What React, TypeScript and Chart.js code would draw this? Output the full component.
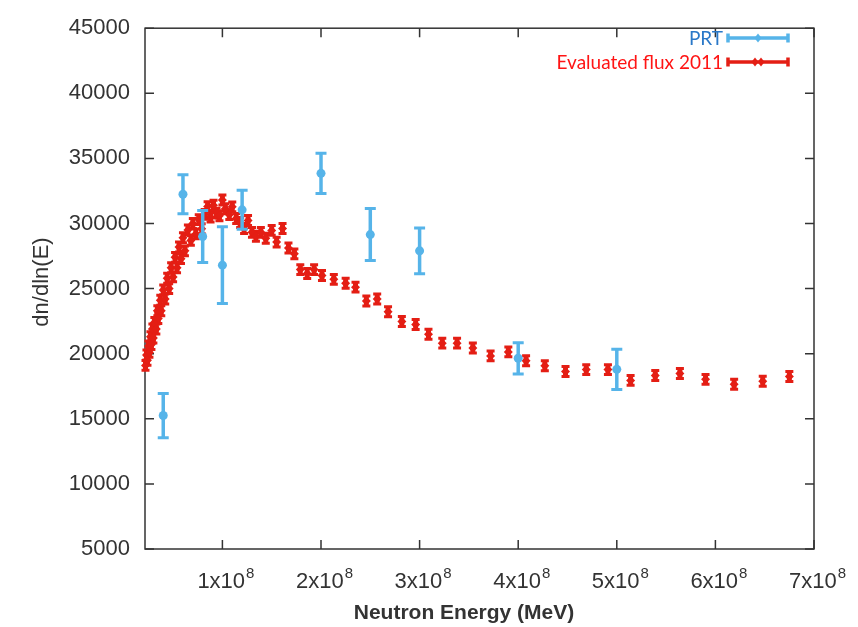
import React, { useEffect, useRef } from "react";
import { Chart, registerables } from "chart.js";

Chart.register(...registerables);

// ---- Data ----
const prtEnergy = [4.0e7, 6.0e7, 8.0e7, 1.0e8, 1.2e8, 2.0e8, 2.5e8, 3.0e8, 4.0e8, 5.0e8];
const prtFlux = [15250, 32250, 29000, 26800, 31050, 33850, 29150, 27900, 19650, 18800];
const prtError = [1700, 1500, 2000, 2950, 1500, 1550, 2000, 1750, 1200, 1550];

const evalEnergy = [
  2.2e7, 2.3e7, 2.4e7, 2.5e7, 2.6e7, 2.7e7, 2.8e7, 2.9e7, 3.0e7, 3.1e7,
  3.3e7, 3.4e7, 3.5e7, 3.7e7, 3.8e7, 4.0e7, 4.2e7, 4.4e7, 4.6e7, 4.8e7,
  5.0e7, 5.2e7, 5.4e7, 5.6e7, 5.8e7, 6.0e7, 6.2e7, 6.5e7, 6.8e7, 7.0e7,
  7.3e7, 7.6e7, 7.9e7, 8.2e7, 8.5e7, 8.8e7, 9.1e7, 9.4e7, 9.7e7, 1.0e8,
  1.03e8, 1.07e8, 1.10e8, 1.14e8, 1.18e8, 1.22e8, 1.26e8, 1.30e8, 1.34e8, 1.39e8,
  1.44e8, 1.50e8, 1.55e8, 1.61e8, 1.67e8, 1.73e8, 1.79e8, 1.86e8, 1.93e8, 2.01e8,
  2.13e8, 2.25e8, 2.35e8, 2.46e8, 2.57e8, 2.68e8, 2.82e8, 2.96e8, 3.09e8, 3.23e8,
  3.38e8, 3.54e8, 3.72e8, 3.90e8, 4.08e8, 4.27e8, 4.48e8, 4.69e8, 4.91e8, 5.14e8,
  5.39e8, 5.64e8, 5.90e8, 6.19e8, 6.48e8, 6.75e8,
];
const evalFlux = [
  19100, 19900, 19500, 20600, 20100, 21300, 20700, 21900, 21200, 22400,
  21900, 23300, 22700, 24100, 23300, 24900, 24200, 25800, 25000, 26600,
  25900, 27400, 26600, 28200, 27300, 28900, 27900, 29500, 28700, 30000,
  29200, 30300, 29600, 30700, 31300, 30500, 31400, 30800, 30600, 31800,
  31130, 30680, 31280, 30380, 30080, 29620, 30230, 29320, 29020, 29320,
  28870, 29470, 28570, 29620, 28120, 27670, 26460, 26160, 26460, 26010,
  25710, 25410, 25110, 24050, 24200, 23220, 22470, 22240, 21490, 20810,
  20810, 20440, 19830, 20140, 19460, 19080, 18630, 18780, 18780, 17950,
  18330, 18480, 18030, 17650, 17880, 18250,
];
const evalError = 380;

const xTickValues = [1e8, 2e8, 3e8, 4e8, 5e8, 6e8, 7e8];
const xTickMantissa = ["1", "2", "3", "4", "5", "6", "7"];
const xTickExponent = "8";

const PRT_LABEL = "PRT";
const EVAL_LABEL = "Evaluated flux 2011";
const X_TITLE = "Neutron Energy (MeV)";
const Y_TITLE = "dn/dln(E)";

const BLUE = "#56b4e9";
const RED = "#e41e14";
const AXIS = "#333333";
const FONT = "'Liberation Sans', Arial, sans-serif";

const errorBarPlugin = {
  id: "errorBars",
  beforeDatasetDraw(chart: any, args: any) {
    const idx = args.index;
    const errs = idx === 0 ? prtError : evalFlux.map(() => evalError);
    const color = idx === 0 ? BLUE : RED;
    const capW = idx === 0 ? 11 : 8;
    const capLw = 3;
    const lw = idx === 0 ? 3.5 : 5;
    const { ctx, scales } = chart;
    const x = scales.x;
    const y = scales.y;
    const data = chart.data.datasets[idx].data as any[];
    ctx.save();
    ctx.strokeStyle = color;
    data.forEach((p: any, k: number) => {
      const px = x.getPixelForValue(p.x);
      const top = y.getPixelForValue(p.y + errs[k]);
      const bot = y.getPixelForValue(p.y - errs[k]);
      ctx.lineWidth = lw;
      ctx.beginPath();
      ctx.moveTo(px, top);
      ctx.lineTo(px, bot);
      ctx.stroke();
      ctx.lineWidth = capLw;
      ctx.beginPath();
      ctx.moveTo(px - capW / 2, top);
      ctx.lineTo(px + capW / 2, top);
      ctx.moveTo(px - capW / 2, bot);
      ctx.lineTo(px + capW / 2, bot);
      ctx.stroke();
    });
    ctx.restore();
  },
};

const framePlugin = {
  id: "frame",
  beforeDatasetsDraw(chart: any) {
    const { ctx, chartArea: a, scales } = chart;
    const x = scales.x;
    const y = scales.y;
    ctx.save();
    ctx.strokeStyle = AXIS;
    ctx.lineWidth = 1.5;
    ctx.strokeRect(a.left, a.top, a.right - a.left, a.bottom - a.top);
    const tl = 9;
    ctx.beginPath();
    y.ticks.forEach((t: any) => {
      const py = y.getPixelForValue(t.value);
      ctx.moveTo(a.left, py);
      ctx.lineTo(a.left + tl, py);
      ctx.moveTo(a.right, py);
      ctx.lineTo(a.right - tl, py);
    });
    xTickValues.forEach((v) => {
      const px = x.getPixelForValue(v);
      ctx.moveTo(px, a.bottom);
      ctx.lineTo(px, a.bottom - tl);
      ctx.moveTo(px, a.top);
      ctx.lineTo(px, a.top + tl);
    });
    ctx.stroke();

    // x tick labels with superscript exponent
    ctx.fillStyle = AXIS;
    ctx.textBaseline = "alphabetic";
    ctx.textAlign = "left";
    xTickValues.forEach((v, i) => {
      const px = x.getPixelForValue(v);
      const base = xTickMantissa[i] + "x10";
      ctx.font = `22px ${FONT}`;
      const wb = ctx.measureText(base).width;
      ctx.font = `15px ${FONT}`;
      const we = ctx.measureText(xTickExponent).width;
      const start = px - (wb + we) / 2 + 3;
      ctx.font = `22px ${FONT}`;
      ctx.fillText(base, start, a.bottom + 39);
      ctx.font = `15px ${FONT}`;
      ctx.fillText(xTickExponent, start + wb + 1, a.bottom + 29);
    });

    // axis titles
    ctx.font = `bold 21px ${FONT}`;
    ctx.textAlign = "center";
    ctx.textBaseline = "middle";
    ctx.fillText(X_TITLE, 464, 613);
    ctx.save();
    ctx.translate(42, 282);
    ctx.rotate(-Math.PI / 2);
    ctx.font = `22px ${FONT}`;
    ctx.fillText(Y_TITLE, 0, 0);
    ctx.restore();
    ctx.restore();
  },
  afterDraw(chart: any) {
    const { ctx } = chart;
    ctx.save();
    ctx.font = "19px Lato, 'Open Sans', sans-serif";
    ctx.textAlign = "right";
    ctx.textBaseline = "middle";
    const tx = 723;
    const x0 = 728;
    const x1 = 788;
    const rows = [
      { label: PRT_LABEL, text: "#2a78c8", color: BLUE, y: 38 },
      { label: EVAL_LABEL, text: "#ff1414", color: RED, y: 62 },
    ];
    rows.forEach((r, i) => {
      ctx.fillStyle = r.text;
      ctx.fillText(r.label, tx, r.y + 1);
      ctx.strokeStyle = r.color;
      ctx.lineWidth = 3.5;
      ctx.beginPath();
      ctx.moveTo(x0, r.y);
      ctx.lineTo(x1, r.y);
      ctx.moveTo(x0, r.y - 4.5);
      ctx.lineTo(x0, r.y + 4.5);
      ctx.moveTo(x1, r.y - 4.5);
      ctx.lineTo(x1, r.y + 4.5);
      ctx.stroke();
      ctx.fillStyle = r.color;
      const mids = i === 0 ? [758] : [755, 761];
      mids.forEach((mx) => {
        ctx.beginPath();
        ctx.moveTo(mx, r.y - 4.5);
        ctx.lineTo(mx + 3.5, r.y);
        ctx.lineTo(mx, r.y + 4.5);
        ctx.lineTo(mx - 3.5, r.y);
        ctx.closePath();
        ctx.fill();
      });
    });
    ctx.restore();
  },
};

export default function App() {
  const ref = useRef<HTMLCanvasElement>(null);
  useEffect(() => {
    const chart = new Chart(ref.current!, {
      type: "scatter",
      data: {
        datasets: [
          {
            label: PRT_LABEL,
            data: prtEnergy.map((e, i) => ({ x: e, y: prtFlux[i] })),
            backgroundColor: BLUE,
            borderColor: BLUE,
            pointStyle: "circle",
            pointRadius: 4.5,
            borderWidth: 0,
            clip: false as any,
          },
          {
            label: EVAL_LABEL,
            data: evalEnergy.map((e, i) => ({ x: e, y: evalFlux[i] })),
            backgroundColor: RED,
            borderColor: RED,
            pointStyle: "rectRot",
            pointRadius: 4.5,
            borderWidth: 0,
            clip: false as any,
          },
        ],
      },
      options: {
        animation: false,
        responsive: false,
        devicePixelRatio: 1,
        layout: { padding: { top: 18, right: 44, left: 0, bottom: 0 } },
        plugins: {
          legend: { display: false },
          tooltip: { enabled: false },
        },
        scales: {
          x: {
            type: "linear",
            min: 2.15e7,
            max: 7e8,
            afterBuildTicks(s: any) {
              s.ticks = xTickValues.map((v) => ({ value: v }));
            },
            ticks: { display: false },
            grid: { display: false, drawTicks: false },
            border: { display: false },
            afterFit(s: any) {
              s.height = 78;
            },
          },
          y: {
            type: "linear",
            min: 5000,
            max: 45000,
            ticks: {
              stepSize: 5000,
              color: AXIS,
              padding: 15,
              font: { family: FONT, size: 22 },
              callback: (v: any) => String(v),
            },
            grid: { display: false, drawTicks: false },
            border: { display: false },
            afterFit(s: any) {
              s.width = 145;
            },
          },
        },
      },
      plugins: [errorBarPlugin, framePlugin],
    });
    return () => chart.destroy();
  }, []);
  return (
    <div style={{ position: "fixed", left: 0, top: 0, width: 858, height: 627, background: "#fff" }}>
      <canvas ref={ref} width={858} height={627} style={{ display: "block" }} />
    </div>
  );
}
